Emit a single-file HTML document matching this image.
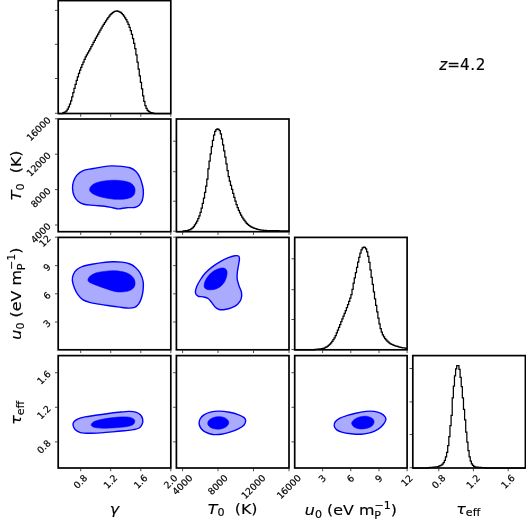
<!DOCTYPE html>
<html><head><meta charset="utf-8"><title>corner</title>
<style>html,body{margin:0;padding:0;background:#fff}body{width:526px;height:520px;overflow:hidden}</style></head>
<body>
<svg width="526" height="520" viewBox="0 0 526 520" style="display:block;overflow:hidden">
<rect width="526" height="520" fill="#fff"/>
<path d="M72.54 188.54C72.42 186.15 72.73 183.85 73.46 181.62C74.19 179.39 75.38 176.96 76.92 175.15C78.46 173.35 80.19 171.85 82.69 170.77C85.19 169.69 88.85 169.31 91.92 168.69C95.00 168.08 97.88 167.54 101.15 167.08C104.42 166.62 108.08 166.04 111.54 165.92C115.00 165.81 118.85 166.08 121.92 166.38C125.00 166.69 127.69 166.96 130.00 167.77C132.31 168.58 134.12 169.62 135.77 171.23C137.42 172.85 138.77 174.96 139.92 177.46C141.08 179.96 142.12 183.62 142.69 186.23C143.27 188.85 143.46 190.77 143.39 193.15C143.31 195.54 142.92 198.54 142.23 200.54C141.54 202.54 140.50 204.00 139.23 205.15C137.96 206.31 136.73 207.04 134.62 207.46C132.50 207.89 129.23 207.46 126.54 207.69C123.85 207.92 120.77 208.85 118.46 208.85C116.15 208.85 115.00 208.12 112.69 207.69C110.39 207.27 107.69 206.69 104.62 206.31C101.54 205.92 97.69 205.73 94.23 205.39C90.77 205.04 86.54 204.92 83.85 204.23C81.15 203.54 79.69 202.62 78.08 201.23C76.46 199.85 75.08 198.04 74.15 195.92C73.23 193.81 72.65 190.92 72.54 188.54Z" fill="#aaaaff" stroke="#0000ff" stroke-width="1.4"/>
<path d="M89.62 189.69C89.62 188.54 90.31 186.92 91.46 185.77C92.62 184.62 94.35 183.58 96.54 182.77C98.73 181.96 101.73 181.35 104.62 180.92C107.50 180.50 110.77 180.23 113.85 180.23C116.92 180.23 120.39 180.50 123.08 180.92C125.77 181.35 128.19 181.89 130.00 182.77C131.81 183.65 133.08 184.96 133.92 186.23C134.77 187.50 135.08 188.96 135.08 190.39C135.08 191.81 134.77 193.54 133.92 194.77C133.08 196.00 131.81 197.04 130.00 197.77C128.19 198.50 125.77 198.92 123.08 199.15C120.39 199.39 116.92 199.39 113.85 199.15C110.77 198.92 107.50 198.39 104.62 197.77C101.73 197.15 98.73 196.31 96.54 195.46C94.35 194.62 92.62 193.65 91.46 192.69C90.31 191.73 89.62 190.85 89.62 189.69Z" fill="#0000ff" stroke="#0000ff" stroke-width="0.6"/>
<path d="M72.31 280.40C72.12 278.02 72.69 275.98 73.46 274.17C74.23 272.36 75.38 270.86 76.92 269.55C78.46 268.25 80.19 267.21 82.69 266.32C85.19 265.44 88.65 264.86 91.92 264.25C95.19 263.63 98.85 263.05 102.31 262.63C105.77 262.21 109.42 261.78 112.69 261.71C115.96 261.63 119.04 261.78 121.92 262.17C124.81 262.55 127.69 263.09 130.00 264.02C132.31 264.94 134.04 266.13 135.77 267.71C137.50 269.28 139.15 271.17 140.39 273.48C141.62 275.78 142.69 278.86 143.15 281.55C143.62 284.25 143.42 286.94 143.15 289.63C142.89 292.32 142.31 295.29 141.54 297.71C140.77 300.13 139.69 302.55 138.54 304.17C137.39 305.79 136.23 306.75 134.62 307.40C133.00 308.05 131.35 308.13 128.85 308.09C126.35 308.05 122.89 307.55 119.62 307.17C116.35 306.79 112.69 306.29 109.23 305.79C105.77 305.29 102.12 304.75 98.85 304.17C95.58 303.59 92.31 303.09 89.62 302.32C86.92 301.55 84.62 300.79 82.69 299.55C80.77 298.32 79.42 296.79 78.08 294.94C76.73 293.09 75.58 290.90 74.62 288.48C73.65 286.05 72.50 282.78 72.31 280.40Z" fill="#aaaaff" stroke="#0000ff" stroke-width="1.4"/>
<path d="M88.00 280.17C87.92 279.48 88.15 278.67 88.69 277.86C89.23 277.05 89.92 276.17 91.23 275.32C92.54 274.48 94.31 273.44 96.54 272.78C98.77 272.13 101.73 271.75 104.62 271.40C107.50 271.05 110.77 270.63 113.85 270.71C116.92 270.78 120.39 271.21 123.08 271.86C125.77 272.52 128.19 273.48 130.00 274.63C131.81 275.78 133.08 277.32 133.92 278.78C134.77 280.25 135.15 281.86 135.08 283.40C135.00 284.94 134.50 286.79 133.46 288.02C132.42 289.25 130.77 290.13 128.85 290.79C126.92 291.44 124.23 291.82 121.92 291.94C119.62 292.05 117.50 291.98 115.00 291.48C112.50 290.98 109.62 289.82 106.92 288.94C104.23 288.05 101.27 287.05 98.85 286.17C96.42 285.28 94.00 284.32 92.38 283.63C90.77 282.94 89.88 282.59 89.15 282.02C88.42 281.44 88.08 280.86 88.00 280.17Z" fill="#0000ff" stroke="#0000ff" stroke-width="0.6"/>
<path d="M73.00 425.00C72.81 423.62 73.31 422.58 74.15 421.54C75.00 420.50 76.27 419.54 78.08 418.77C79.88 418.00 82.12 417.50 85.00 416.92C87.88 416.35 91.73 415.85 95.38 415.31C99.04 414.77 103.08 414.19 106.92 413.69C110.77 413.19 114.81 412.69 118.46 412.31C122.12 411.92 125.96 411.42 128.85 411.39C131.73 411.35 133.85 411.50 135.77 412.08C137.69 412.65 139.23 413.62 140.39 414.85C141.54 416.08 142.39 417.92 142.69 419.46C143.00 421.00 142.81 422.65 142.23 424.08C141.65 425.50 140.69 427.08 139.23 428.00C137.77 428.92 135.96 429.15 133.46 429.62C130.96 430.08 127.69 430.39 124.23 430.77C120.77 431.15 116.54 431.58 112.69 431.92C108.85 432.27 105.00 432.62 101.15 432.85C97.31 433.08 93.08 433.35 89.62 433.31C86.15 433.27 82.77 433.19 80.38 432.62C78.00 432.04 76.54 431.12 75.31 429.85C74.08 428.58 73.19 426.39 73.00 425.00Z" fill="#aaaaff" stroke="#0000ff" stroke-width="1.4"/>
<path d="M91.23 424.54C91.54 423.73 92.58 422.39 94.23 421.54C95.88 420.69 98.27 420.08 101.15 419.46C104.04 418.85 108.08 418.27 111.54 417.85C115.00 417.42 118.85 417.00 121.92 416.92C125.00 416.85 127.96 416.96 130.00 417.39C132.04 417.81 133.39 418.65 134.15 419.46C134.92 420.27 134.92 421.31 134.62 422.23C134.31 423.15 133.85 424.23 132.31 425.00C130.77 425.77 128.27 426.39 125.39 426.85C122.50 427.31 118.46 427.54 115.00 427.77C111.54 428.00 107.69 428.23 104.62 428.23C101.54 428.23 98.58 428.08 96.54 427.77C94.50 427.46 93.27 426.92 92.38 426.39C91.50 425.85 90.92 425.35 91.23 424.54Z" fill="#0000ff" stroke="#0000ff" stroke-width="0.6"/>
<path d="M195.38 292.69C195.15 291.15 195.73 289.04 196.54 286.92C197.35 284.81 198.77 282.31 200.23 280.00C201.69 277.69 203.31 275.27 205.31 273.08C207.31 270.88 209.73 268.77 212.23 266.85C214.73 264.92 217.62 263.08 220.31 261.54C223.00 260.00 225.96 258.58 228.39 257.62C230.81 256.65 233.15 256.04 234.85 255.77C236.54 255.50 237.77 255.46 238.54 256.00C239.31 256.54 239.46 257.50 239.46 259.00C239.46 260.50 238.89 262.85 238.54 265.00C238.19 267.15 237.62 269.62 237.39 271.92C237.15 274.23 236.89 276.54 237.15 278.85C237.42 281.15 238.27 283.46 239.00 285.77C239.73 288.08 241.19 290.46 241.54 292.69C241.89 294.92 241.73 297.23 241.08 299.15C240.42 301.08 239.15 302.81 237.62 304.23C236.08 305.65 233.96 306.81 231.85 307.69C229.73 308.58 227.04 309.23 224.92 309.54C222.81 309.85 220.81 309.96 219.15 309.54C217.50 309.12 216.23 308.15 215.00 307.00C213.77 305.85 212.92 304.04 211.77 302.62C210.62 301.19 209.54 299.42 208.08 298.46C206.62 297.50 204.69 297.23 203.00 296.85C201.31 296.46 199.19 296.85 197.92 296.15C196.65 295.46 195.62 294.23 195.38 292.69Z" fill="#aaaaff" stroke="#0000ff" stroke-width="1.4"/>
<path d="M204.15 285.31C204.23 284.08 204.54 282.35 205.31 280.69C206.08 279.04 207.31 277.04 208.77 275.38C210.23 273.73 212.15 271.96 214.08 270.77C216.00 269.58 218.50 268.62 220.31 268.23C222.12 267.85 223.81 267.92 224.92 268.46C226.04 269.00 226.73 270.12 227.00 271.46C227.27 272.81 227.00 274.73 226.54 276.54C226.08 278.35 225.35 280.58 224.23 282.31C223.12 284.04 221.54 285.73 219.85 286.92C218.15 288.12 216.04 289.00 214.08 289.46C212.12 289.92 209.62 289.92 208.08 289.69C206.54 289.46 205.50 288.81 204.85 288.08C204.19 287.35 204.08 286.54 204.15 285.31Z" fill="#0000ff" stroke="#0000ff" stroke-width="0.6"/>
<path d="M199.08 423.39C199.00 421.85 199.42 420.19 200.23 418.77C201.04 417.35 202.23 415.96 203.92 414.85C205.62 413.73 207.85 412.69 210.38 412.08C212.92 411.46 215.96 411.12 219.15 411.15C222.35 411.19 226.27 411.69 229.54 412.31C232.81 412.92 236.35 413.96 238.77 414.85C241.19 415.73 242.92 416.65 244.08 417.62C245.23 418.58 245.69 419.39 245.69 420.62C245.69 421.85 245.23 423.65 244.08 425.00C242.92 426.35 241.00 427.54 238.77 428.69C236.54 429.85 233.58 431.00 230.69 431.92C227.81 432.85 224.46 433.81 221.46 434.23C218.46 434.65 215.42 434.85 212.69 434.46C209.96 434.08 207.08 433.00 205.08 431.92C203.08 430.85 201.69 429.42 200.69 428.00C199.69 426.58 199.15 424.92 199.08 423.39Z" fill="#aaaaff" stroke="#0000ff" stroke-width="1.4"/>
<path d="M228.72 422.40C228.76 423.19 228.51 424.06 228.04 424.82C227.56 425.58 226.78 426.34 225.87 426.95C224.95 427.56 223.75 428.11 222.53 428.47C221.31 428.84 219.88 429.08 218.54 429.15C217.20 429.21 215.76 429.12 214.51 428.87C213.25 428.63 212.01 428.21 211.04 427.70C210.06 427.18 209.21 426.50 208.66 425.79C208.11 425.08 207.78 424.24 207.74 423.45C207.70 422.65 207.95 421.79 208.42 421.03C208.90 420.27 209.68 419.50 210.60 418.89C211.51 418.29 212.71 417.74 213.93 417.38C215.15 417.01 216.58 416.77 217.92 416.70C219.26 416.63 220.71 416.73 221.96 416.97C223.21 417.22 224.45 417.64 225.43 418.15C226.40 418.67 227.25 419.35 227.80 420.06C228.35 420.77 228.68 421.61 228.72 422.40Z" fill="#0000ff" stroke="#0000ff" stroke-width="0.6"/>
<path d="M334.15 425.69C333.96 424.39 334.42 423.00 335.31 421.77C336.19 420.54 337.42 419.39 339.46 418.31C341.50 417.23 344.65 416.19 347.54 415.31C350.42 414.42 353.69 413.65 356.77 413.00C359.85 412.35 363.12 411.65 366.00 411.39C368.89 411.12 371.58 411.04 374.08 411.39C376.58 411.73 379.15 412.54 381.00 413.46C382.85 414.39 384.35 415.85 385.15 416.92C385.96 418.00 386.15 418.65 385.85 419.92C385.54 421.19 384.58 423.00 383.31 424.54C382.04 426.08 380.35 427.81 378.23 429.15C376.12 430.50 373.42 431.77 370.62 432.62C367.81 433.46 364.65 434.04 361.39 434.23C358.12 434.42 354.27 434.12 351.00 433.77C347.73 433.42 344.19 432.85 341.77 432.15C339.35 431.46 337.73 430.69 336.46 429.62C335.19 428.54 334.35 427.00 334.15 425.69Z" fill="#aaaaff" stroke="#0000ff" stroke-width="1.4"/>
<path d="M351.69 423.39C351.58 422.15 352.54 420.96 353.77 419.92C355.00 418.89 357.04 417.77 359.08 417.15C361.12 416.54 363.89 416.08 366.00 416.23C368.12 416.39 370.42 417.19 371.77 418.08C373.12 418.96 374.00 420.27 374.08 421.54C374.15 422.81 373.39 424.58 372.23 425.69C371.08 426.81 369.15 427.69 367.15 428.23C365.15 428.77 362.35 429.08 360.23 428.92C358.12 428.77 355.89 428.23 354.46 427.31C353.04 426.39 351.81 424.62 351.69 423.39Z" fill="#0000ff" stroke="#0000ff" stroke-width="0.6"/>
<path d="M58.20 113.50H59.33V113.50H60.45V113.50H61.58V113.50H62.70V112.92H63.83V112.34H64.96V111.77H66.08V110.90H67.21V109.11H68.33V106.84H69.46V104.05H70.59V100.76H71.71V96.86H72.84V92.52H73.96V88.32H75.09V84.29H76.22V80.49H77.34V76.96H78.47V73.44H79.59V70.19H80.72V67.29H81.85V64.72H82.97V62.20H84.10V59.26H85.22V56.91H86.35V54.84H87.48V52.88H88.60V50.87H89.73V48.76H90.85V46.65H91.98V44.54H93.11V42.44H94.23V40.34H95.36V38.24H96.48V36.15H97.61V34.09H98.74V32.05H99.86V30.02H100.99V28.02H102.11V26.09H103.24V24.27H104.37V22.52H105.49V20.84H106.62V19.22H107.74V17.66H108.87V16.12H110.00V14.73H111.12V13.58H112.25V12.56H113.37V11.83H114.50V11.36H115.63V11.03H116.75V10.99H117.88V11.29H119.00V11.79H120.13V12.46H121.26V13.48H122.38V14.67H123.51V16.13H124.63V17.84H125.76V19.74H126.89V21.91H128.01V24.38H129.14V27.32H130.26V30.68H131.39V34.40H132.52V38.57H133.64V43.39H134.77V48.61H135.89V54.79H137.02V62.21H138.15V69.22H139.27V75.86H140.40V82.30H141.52V88.94H142.65V95.82H143.78V101.35H144.90V105.55H146.03V108.42H147.15V110.28H148.28V111.48H149.41V112.17H150.53V112.57H151.66V112.89H152.78V113.17H153.91V113.50H155.04V113.50H156.16V113.50H157.29V113.50H158.41V113.50H159.54V113.50H160.67V113.50H161.79V113.50H162.92V113.50H164.04V113.50H165.17V113.50H166.30V113.50H167.42V113.50H168.55V113.50H169.67V113.50H170.80" fill="none" stroke="#000" stroke-width="1.25" stroke-linejoin="miter"/>
<path d="M176.40 231.70H177.53V231.70H178.65V231.70H179.78V231.70H180.90V231.70H182.03V231.70H183.16V230.89H184.28V230.83H185.41V230.74H186.53V230.61H187.66V230.35H188.79V229.99H189.91V229.50H191.04V228.74H192.16V227.78H193.29V226.50H194.42V224.93H195.54V223.17H196.67V221.13H197.79V218.71H198.92V215.80H200.05V212.30H201.17V208.20H202.30V203.44H203.42V198.12H204.55V192.40H205.68V186.03H206.80V179.01H207.93V168.98H209.05V161.21H210.18V153.78H211.31V146.64H212.43V140.28H213.56V135.20H214.68V131.30H215.81V129.67H216.94V128.92H218.06V129.29H219.19V130.53H220.31V133.83H221.44V138.97H222.57V144.84H223.69V150.75H224.82V157.22H225.94V163.95H227.07V170.71H228.20V176.66H229.32V181.17H230.45V185.37H231.57V189.36H232.70V193.44H233.83V197.43H234.95V201.13H236.08V204.57H237.20V207.64H238.33V210.40H239.46V212.86H240.58V215.06H241.71V217.03H242.83V218.84H243.96V220.47H245.09V221.94H246.21V223.26H247.34V224.38H248.46V225.38H249.59V226.24H250.72V226.91H251.84V227.47H252.97V227.94H254.09V228.35H255.22V228.73H256.35V229.08H257.47V229.39H258.60V229.65H259.72V229.84H260.85V230.00H261.98V230.15H263.10V230.27H264.23V230.37H265.35V230.45H266.48V230.51H267.61V230.54H268.73V230.57H269.86V230.60H270.98V230.62H272.11V230.64H273.24V230.66H274.36V230.68H275.49V230.70H276.61V230.72H277.74V230.74H278.87V230.76H279.99V230.78H281.12V230.80H282.24V230.81H283.37V230.83H284.50V230.85H285.62V230.86H286.75V230.88H287.87V230.89H289.00" fill="none" stroke="#000" stroke-width="1.25" stroke-linejoin="miter"/>
<path d="M294.70 349.80H295.82V349.80H296.95V349.80H298.07V349.80H299.20V349.80H300.32V349.80H301.44V349.80H302.57V349.80H303.69V349.80H304.82V349.80H305.94V349.80H307.06V349.80H308.19V349.80H309.31V349.80H310.44V349.80H311.56V349.80H312.68V349.80H313.81V349.80H314.93V349.29H316.06V349.25H317.18V349.17H318.30V349.07H319.43V348.96H320.55V348.80H321.68V348.60H322.80V348.33H323.92V348.01H325.05V347.49H326.17V346.81H327.30V346.04H328.42V345.11H329.54V344.02H330.67V342.80H331.79V341.37H332.92V339.71H334.04V337.75H335.16V335.51H336.29V332.95H337.41V330.24H338.54V327.39H339.66V324.54H340.78V321.73H341.91V318.93H343.03V316.12H344.16V313.30H345.28V310.50H346.40V307.60H347.53V304.54H348.65V301.40H349.78V298.21H350.90V294.67H352.02V289.35H353.15V283.21H354.27V277.78H355.40V272.55H356.52V267.36H357.64V262.23H358.77V257.40H359.89V253.18H361.02V249.95H362.14V247.90H363.26V247.17H364.39V247.47H365.51V248.88H366.64V251.97H367.76V256.31H368.88V262.33H370.01V269.80H371.13V277.32H372.26V284.40H373.38V291.91H374.50V298.93H375.63V305.34H376.75V311.91H377.88V318.20H379.00V323.88H380.12V328.70H381.25V332.23H382.37V334.89H383.50V336.88H384.62V338.53H385.74V339.95H386.87V341.14H387.99V342.19H389.12V343.07H390.24V343.77H391.36V344.37H392.49V344.89H393.61V345.35H394.74V345.77H395.86V346.14H396.98V346.47H398.11V346.77H399.23V347.04H400.36V347.30H401.48V347.53H402.60V347.75H403.73V347.95H404.85V348.15H405.98V348.32H407.10" fill="none" stroke="#000" stroke-width="1.25" stroke-linejoin="miter"/>
<path d="M412.80 468.00H413.93V468.00H415.05V468.00H416.18V468.00H417.30V468.00H418.43V468.00H419.56V468.00H420.68V468.00H421.81V468.00H422.93V468.00H424.06V468.00H425.19V468.00H426.31V468.00H427.44V467.60H428.56V467.55H429.69V467.48H430.82V467.40H431.94V467.31H433.07V467.21H434.19V467.09H435.32V466.95H436.45V466.78H437.57V466.56H438.70V466.24H439.82V465.73H440.95V465.04H442.08V464.07H443.20V462.54H444.33V460.28H445.45V456.91H446.58V452.27H447.71V445.51H448.83V436.69H449.96V425.62H451.08V415.40H452.21V397.84H453.34V386.12H454.46V375.85H455.59V368.87H456.71V365.67H457.84V365.55H458.97V369.45H460.09V377.49H461.22V386.53H462.34V397.76H463.47V409.37H464.60V419.75H465.72V432.01H466.85V442.08H467.97V450.66H469.10V456.86H470.23V461.02H471.35V463.77H472.48V465.46H473.60V466.29H474.73V466.80H475.86V467.09H476.98V467.24H478.11V467.34H479.23V467.42H480.36V467.49H481.49V467.55H482.61V467.61H483.74V467.65H484.86V467.69H485.99V468.00H487.12V468.00H488.24V468.00H489.37V468.00H490.49V468.00H491.62V468.00H492.75V468.00H493.87V468.00H495.00V468.00H496.12V468.00H497.25V468.00H498.38V468.00H499.50V468.00H500.63V468.00H501.75V468.00H502.88V468.00H504.01V468.00H505.13V468.00H506.26V468.00H507.38V468.00H508.51V468.00H509.64V468.00H510.76V468.00H511.89V468.00H513.01V468.00H514.14V468.00H515.27V468.00H516.39V468.00H517.52V468.00H518.64V468.00H519.77V468.00H520.90V468.00H522.02V468.00H523.15V468.00H524.27V468.00H525.40" fill="none" stroke="#000" stroke-width="1.25" stroke-linejoin="miter"/>
<path d="M80.70 114.15 v2.60M110.70 114.15 v2.60M140.80 114.15 v2.60M170.80 114.15 v2.60M57.55 10.40 h-2.60M57.55 44.30 h-2.60M57.55 78.50 h-2.60M57.55 113.30 h-2.60M80.70 232.35 v2.60M110.70 232.35 v2.60M140.80 232.35 v2.60M170.80 232.35 v2.60M57.55 225.00 h-2.60M57.55 189.60 h-2.60M57.55 154.20 h-2.60M57.55 118.80 h-2.60M80.70 350.45 v2.60M110.70 350.45 v2.60M140.80 350.45 v2.60M170.80 350.45 v2.60M57.55 322.00 h-2.60M57.55 293.80 h-2.60M57.55 265.60 h-2.60M57.55 237.20 h-2.60M80.70 468.65 v2.60M110.70 468.65 v2.60M140.80 468.65 v2.60M170.80 468.65 v2.60M57.55 441.90 h-2.60M57.55 407.30 h-2.60M57.55 372.70 h-2.60M182.60 232.35 v2.60M218.00 232.35 v2.60M253.50 232.35 v2.60M289.00 232.35 v2.60M175.75 141.20 h-2.60M175.75 171.70 h-2.60M175.75 201.20 h-2.60M175.75 231.20 h-2.60M182.60 350.45 v2.60M218.00 350.45 v2.60M253.50 350.45 v2.60M289.00 350.45 v2.60M175.75 322.00 h-2.60M175.75 293.80 h-2.60M175.75 265.60 h-2.60M175.75 237.20 h-2.60M182.60 468.65 v2.60M218.00 468.65 v2.60M253.50 468.65 v2.60M289.00 468.65 v2.60M175.75 441.90 h-2.60M175.75 407.30 h-2.60M175.75 372.70 h-2.60M322.60 350.45 v2.60M350.80 350.45 v2.60M379.00 350.45 v2.60M407.10 350.45 v2.60M294.05 258.80 h-2.60M294.05 289.70 h-2.60M294.05 319.50 h-2.60M294.05 349.50 h-2.60M322.60 468.65 v2.60M350.80 468.65 v2.60M379.00 468.65 v2.60M407.10 468.65 v2.60M294.05 441.90 h-2.60M294.05 407.30 h-2.60M294.05 372.70 h-2.60M438.80 468.65 v2.60M473.40 468.65 v2.60M508.20 468.65 v2.60M412.15 368.50 h-2.60M412.15 401.90 h-2.60M412.15 434.50 h-2.60M412.15 467.70 h-2.60" stroke="#000" stroke-width="0.70" fill="none"/>
<rect x="58.20" y="0.60" width="112.60" height="112.90" fill="none" stroke="#000" stroke-width="1.70"/>
<rect x="58.20" y="119.00" width="112.60" height="112.70" fill="none" stroke="#000" stroke-width="1.70"/>
<rect x="58.20" y="237.40" width="112.60" height="112.40" fill="none" stroke="#000" stroke-width="1.70"/>
<rect x="58.20" y="355.60" width="112.60" height="112.40" fill="none" stroke="#000" stroke-width="1.70"/>
<rect x="176.40" y="119.00" width="112.60" height="112.70" fill="none" stroke="#000" stroke-width="1.70"/>
<rect x="176.40" y="237.40" width="112.60" height="112.40" fill="none" stroke="#000" stroke-width="1.70"/>
<rect x="176.40" y="355.60" width="112.60" height="112.40" fill="none" stroke="#000" stroke-width="1.70"/>
<rect x="294.70" y="237.40" width="112.40" height="112.40" fill="none" stroke="#000" stroke-width="1.70"/>
<rect x="294.70" y="355.60" width="112.40" height="112.40" fill="none" stroke="#000" stroke-width="1.70"/>
<rect x="412.80" y="355.60" width="112.60" height="112.40" fill="none" stroke="#000" stroke-width="1.70"/>
<g font-family="'DejaVu Sans','Liberation Sans',sans-serif" font-size="9.30" fill="#000" stroke="#000" stroke-width="0.2">
<text transform="translate(80.40 481.52) rotate(-45)" x="0" y="3.39" text-anchor="middle">0.8</text>
<text transform="translate(110.40 481.52) rotate(-45)" x="0" y="3.39" text-anchor="middle">1.2</text>
<text transform="translate(140.50 481.52) rotate(-45)" x="0" y="3.39" text-anchor="middle">1.6</text>
<text transform="translate(170.50 481.52) rotate(-45)" x="0" y="3.39" text-anchor="middle">2.0</text>
<text transform="translate(182.30 484.66) rotate(-45)" x="0" y="3.39" text-anchor="middle">4000</text>
<text transform="translate(217.70 484.66) rotate(-45)" x="0" y="3.39" text-anchor="middle">8000</text>
<text transform="translate(253.20 486.75) rotate(-45)" x="0" y="3.39" text-anchor="middle">12000</text>
<text transform="translate(288.70 486.75) rotate(-45)" x="0" y="3.39" text-anchor="middle">16000</text>
<text transform="translate(322.30 478.39) rotate(-45)" x="0" y="3.39" text-anchor="middle">3</text>
<text transform="translate(350.50 478.39) rotate(-45)" x="0" y="3.39" text-anchor="middle">6</text>
<text transform="translate(378.70 478.39) rotate(-45)" x="0" y="3.39" text-anchor="middle">9</text>
<text transform="translate(406.80 480.48) rotate(-45)" x="0" y="3.39" text-anchor="middle">12</text>
<text transform="translate(438.50 481.52) rotate(-45)" x="0" y="3.39" text-anchor="middle">0.8</text>
<text transform="translate(473.10 481.52) rotate(-45)" x="0" y="3.39" text-anchor="middle">1.2</text>
<text transform="translate(507.90 481.52) rotate(-45)" x="0" y="3.39" text-anchor="middle">1.6</text>
<text transform="translate(51.40 226.90) rotate(-45)" x="0" y="0" text-anchor="end">4000</text>
<text transform="translate(51.40 191.50) rotate(-45)" x="0" y="0" text-anchor="end">8000</text>
<text transform="translate(51.40 156.10) rotate(-45)" x="0" y="0" text-anchor="end">12000</text>
<text transform="translate(51.40 120.70) rotate(-45)" x="0" y="0" text-anchor="end">16000</text>
<text transform="translate(51.40 323.90) rotate(-45)" x="0" y="0" text-anchor="end">3</text>
<text transform="translate(51.40 295.70) rotate(-45)" x="0" y="0" text-anchor="end">6</text>
<text transform="translate(51.40 267.50) rotate(-45)" x="0" y="0" text-anchor="end">9</text>
<text transform="translate(51.40 239.10) rotate(-45)" x="0" y="0" text-anchor="end">12</text>
<text transform="translate(51.40 443.80) rotate(-45)" x="0" y="0" text-anchor="end">0.8</text>
<text transform="translate(51.40 409.20) rotate(-45)" x="0" y="0" text-anchor="end">1.2</text>
<text transform="translate(51.40 374.60) rotate(-45)" x="0" y="0" text-anchor="end">1.6</text>
</g>
<g font-family="'DejaVu Sans','Liberation Sans',sans-serif" font-size="15.00" fill="#000" stroke="#000" stroke-width="0.15">
<text transform="translate(114.50 513.50) scale(1.060 0.970)" text-anchor="middle" xml:space="preserve"><tspan font-style="italic">γ</tspan></text>
<text transform="translate(232.70 513.50) scale(1.060 0.970)" text-anchor="middle" xml:space="preserve"><tspan font-style="italic">T</tspan><tspan font-size="10.50" dy="2.6">0</tspan><tspan dy="-2.6" xml:space="preserve">  (K)</tspan></text>
<text transform="translate(350.90 515.10) scale(1.060 0.970)" text-anchor="middle" xml:space="preserve"><tspan font-style="italic">u</tspan><tspan font-size="10.50" dy="2.6">0</tspan><tspan dy="-2.6" xml:space="preserve"> (eV m</tspan><tspan font-size="10.50" dy="3.6">P</tspan><tspan font-size="10.50" dy="-9.6" dx="-6.3">−1</tspan><tspan dy="6">)</tspan></text>
<text transform="translate(468.30 513.50) scale(1.060 0.970)" text-anchor="middle" xml:space="preserve"><tspan font-style="italic">τ</tspan><tspan font-size="10.50" dy="2.6">eff</tspan></text>
<text transform="translate(21.00 175.35) rotate(-90) scale(1.060 0.970)" text-anchor="middle" xml:space="preserve"><tspan font-style="italic">T</tspan><tspan font-size="10.50" dy="2.6">0</tspan><tspan dy="-2.6" xml:space="preserve">  (K)</tspan></text>
<text transform="translate(21.00 293.60) rotate(-90) scale(1.060 0.970)" text-anchor="middle" xml:space="preserve"><tspan font-style="italic">u</tspan><tspan font-size="10.50" dy="2.6">0</tspan><tspan dy="-2.6" xml:space="preserve"> (eV m</tspan><tspan font-size="10.50" dy="3.6">P</tspan><tspan font-size="10.50" dy="-9.6" dx="-6.3">−1</tspan><tspan dy="6">)</tspan></text>
<text transform="translate(21.00 412.80) rotate(-90) scale(1.060 0.970)" text-anchor="middle" xml:space="preserve"><tspan font-style="italic">τ</tspan><tspan font-size="10.50" dy="2.6">eff</tspan></text>
<text x="439.2" y="69.7" font-size="15.2"><tspan font-style="italic">z</tspan>=4<tspan dx="0.7">.</tspan><tspan dx="0.6">2</tspan></text>
</g>
</svg>
</body></html>
